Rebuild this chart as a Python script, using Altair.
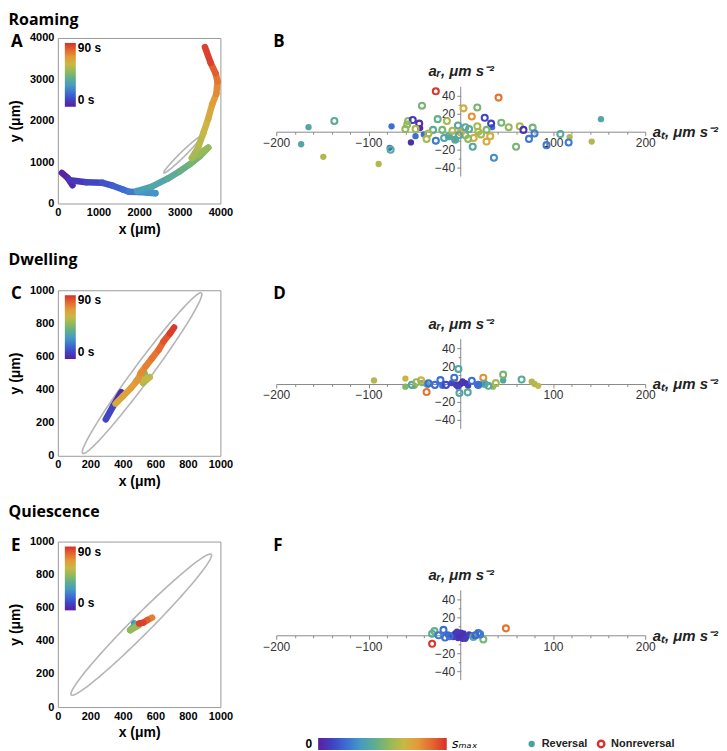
import altair as alt
import pandas as pd
import numpy as np

# ---------------- colours ----------------
RAINBOW = ["#5a1f9c", "#4043c4", "#3d6fd3", "#459bc2", "#5fae8e",
           "#93b95a", "#c9b845", "#e39a38", "#e4662f", "#d8302a"]

# ---------------- trajectories (x, y in um, t in s, segment id) ----------------
A_x = [100, 240, 360, 300, 700, 1100, 1350, 1600, 1750, 2000, 2400, 1950, 2300, 2700, 3000, 3250, 3500, 3700,
       3300, 3450, 3580, 3700, 3800, 3900, 3930, 3880, 3760, 3620]
A_y = [740, 620, 440, 560, 515, 500, 430, 340, 285, 280, 250, 300, 400, 600, 780, 950, 1150, 1350,
       1100, 1350, 1700, 2050, 2400, 2650, 2950, 3150, 3400, 3780]
A_t = [0, 2, 4, 5, 9, 12, 15, 18, 21, 24, 27, 30, 33, 37, 40, 43, 46, 49,
       52, 55, 59, 63, 67, 71, 75, 79, 84, 90]
A_seg = [0, 0, 0] + [1] * 25

C_x = [390, 340, 295, 480, 530, 545, 525, 565, 520, 355, 400, 450, 490, 510, 540, 580, 620, 650, 690, 715]
C_y = [385, 300, 220, 450, 505, 470, 440, 475, 455, 315, 360, 410, 455, 500, 540, 590, 640, 690, 740, 775]
C_t = [0, 7, 14, 44, 47, 50, 53, 57, 60, 64, 66, 68, 70, 72, 74, 76, 78, 81, 86, 90]
C_seg = [0, 0, 0, 1, 1, 1, 1, 1, 1, 2, 2, 2, 2, 2, 2, 2, 2, 2, 2, 2]

E_x = [470, 480, 445, 500, 580, 550, 525, 500]
E_y = [505, 500, 465, 495, 540, 525, 510, 505]
E_t = [20, 32, 45, 55, 72, 78, 85, 90]
E_seg = [0, 0, 0, 0, 1, 1, 1, 1]

# covariance ellipses: centre x, centre y, semi-major, semi-minor, angle (deg)
A_ell = [3060, 1175, 625, 62, 44]
C_ell = [518, 499, 607, 55, 53]
E_ell = [513, 498, 605, 58, 44.6]

# ---------------- accelerations (a_t, a_r, speed fraction) ----------------
B_rev_at = [152, -165, -173, -149, -89, -75, -77, -54, -49, 118, 142, -44, 34, -12, -6, -40]
B_rev_ar = [14, 5, -14, -28, -36, 6, -18, -12, -5, -6, -11, 4, 5, -6, -8, -3]
B_rev_s = [0.40, 0.40, 0.40, 0.62, 0.62, 0.22, 0.22, 0.05, 0.22, 0.62, 0.62, 0.05, 0.22, 0.40, 0.40, 0.22]
B_non_at = [-27, 41, -42, 3, 18, 12, -137, -57, -52, -45, -25, -15, 26, 33, 44, 52, 64, 68, 78, 80, 108, 117,
            93, 74, 60, 36, 13, -27, -76, -37, -49, -3, -6, -13, -9, -20, -30, 5, 9, 14, 19, 28, 28, 32, 0,
            18, -58, -2, 5, -18, 8, 22, -35, -60]
B_non_ar = [45, 38, 29, 26, 27, 17, 12, 12, 13, 9, 14, 12, 15.5, 9, 10, 5, 6, 2, 4.5, -2, -2.6, -12,
            -15, -8, -16.7, -29, -16.7, -10, -20, -8, 3, 7, -9, -5, 1, 2, 2, -4, 3, -7, 0, 2, -11, -5, -1,
            6, 8, -4, 5, -7, -8, -3, -2, 3]
B_non_s = [0.98, 0.86, 0.5, 0.72, 0.5, 0.8, 0.42, 0.55, 0.08, 0.05, 0.45, 0.6, 0.12, 0.1, 0.5, 0.55, 0.6, 0.06,
           0.5, 0.25, 0.42, 0.25, 0.25, 0.25, 0.5, 0.3, 0.4, 0.25, 0.42, 0.6, 0.6, 0.4, 0.42, 0.42, 0.6, 0.5,
           0.42, 0.5, 0.42, 0.72, 0.6, 0.5, 0.72, 0.72, 0.72, 0.6, 0.55, 0.4, 0.42, 0.4, 0.55, 0.6, 0.6, 0.55]

D_rev_at = [-94, -60, -60, -50, -42, 77, 80, 84, 46, 35, -6, 0, -5, 5, 8, -10, -20, 18, -36, 25, 2, -3]
D_rev_ar = [4, 6, -3, -2, 1, 2.5, 0, -2, 4, -3, 2, 0, -1, 1, -2, 1, -2, -1, -1, 1, 3, -3]
D_rev_s = [0.62, 0.68, 0.52, 0.55, 0.45, 0.62, 0.62, 0.65, 0.4, 0.55, 0.7, 0.05, 0.08, 0.06, 0.1, 0.12,
           0.22, 0.22, 0.4, 0.3, 0.07, 0.1]
D_non_at = [-37, 24.5, -43, -53, -2.5, -1.4, 7.6, 46, 66, -22, -7, 12, -35, 26, 30, 19, -28, -16, -48, 38]
D_non_ar = [-9, 7, 4, -1, 16.8, -10, -9.3, 10.4, 5, 4.3, 7, 3.6, 0.7, 0, -2, -1, -1, -1, 2, 1]
D_non_s = [0.86, 0.8, 0.7, 0.4, 0.4, 0.4, 0.42, 0.5, 0.42, 0.22, 0.22, 0.22, 0.22, 0.42, 0.42, 0.22, 0.22,
           0.12, 0.55, 0.6]

F_rev_at = [-10, -6, -3, 0, 3, 6, 9, 12, -8, 0, 2, -14, 15, -4, 5]
F_rev_ar = [0, 2, -3, 0, 2, -2, 1, 0, -2, 3, -4, 1, -1, 4, -4]
F_rev_s = [0.08, 0.05, 0.06, 0.04, 0.07, 0.05, 0.1, 0.15, 0.1, 0.06, 0.06, 0.18, 0.2, 0.08, 0.09]
F_non_at = [-31, 49, -31, -28.5, -18.7, -17, -24, 19, 24.5, 13.7, 21, -12, 16]
F_non_ar = [-9.5, 7.7, 1.8, 4.6, 6, -2.5, 0, 2.5, -4.6, -1.8, 1, -1, 0]
F_non_s = [0.98, 0.86, 0.42, 0.45, 0.22, 0.22, 0.25, 0.22, 0.5, 0.42, 0.25, 0.22, 0.2]

X_TICKS = list(range(-200, 201, 20))
Y_TICKS = list(range(-40, 41, 10))
AR_AXIS = [-50, 50]          # extent of the drawn a_r axis line
LEGEND_LABELS = ["Reversal", "Nonreversal"]
LEGEND_POS = [1.66, 2.20]

LW, LH = 163, 166
RW = 370
PXU = 0.9                     # pixels per unit on the right panels
TOPGAP = 49                   # right plot's a_r=50 line sits this far below the left frame top
RH = int(round(100 * PXU + TOPGAP))
Y_TOP = 50 + TOPGAP / PXU

BOLD_FONT = "Liberation Sans"
TITLE_FONT = "Open Sans"


def time_scale():
    return alt.Scale(domain=[0, 90], range=RAINBOW, interpolate="rgb")


def left_panel(letter, xs, ys, ts, segs, ell, dom, ticks):
    rows = []
    for i in range(len(xs) - 1):
        if segs[i] == segs[i + 1]:
            rows.append(dict(x=xs[i], y=ys[i], x2=xs[i + 1], y2=ys[i + 1],
                             t=(ts[i] + ts[i + 1]) / 2.0))
    seg_df = pd.DataFrame(rows)
    cx, cy, a, b, ang = ell
    th = np.linspace(0, 2 * np.pi, 121)
    r = np.radians(ang)
    ex = cx + a * np.cos(th) * np.cos(r) - b * np.sin(th) * np.sin(r)
    ey = cy + a * np.cos(th) * np.sin(r) + b * np.sin(th) * np.cos(r)
    ell_df = pd.DataFrame({"ex": ex, "ey": ey, "o": np.arange(len(th))})

    xs_ = alt.Scale(domain=dom, nice=False, zero=False)
    ys_ = alt.Scale(domain=dom, nice=False, zero=False)
    ax_common = dict(grid=False, domain=False, ticks=False, labelFont=BOLD_FONT, labelFontSize=11,
                     labelFontWeight="bold", labelColor="black", titleFont=BOLD_FONT, titleFontSize=14,
                     titleFontWeight="bold", titleColor="black", values=ticks, labelFlush=False,
                     labelOverlap=False, labelSeparation=0, format="d")
    xaxis = alt.Axis(title="x (μm)", labelPadding=3, titlePadding=5, **ax_common)
    yaxis = alt.Axis(title="y (μm)", labelPadding=4, titleX=-42, titleY=LH / 2, titleAngle=270,
                     titleAlign="center", titleBaseline="middle", **ax_common)

    ellipse = alt.Chart(ell_df).mark_line(color="#b5b5b5", strokeWidth=1.6).encode(
        x=alt.X("ex:Q", scale=xs_, axis=xaxis),
        y=alt.Y("ey:Q", scale=ys_, axis=yaxis),
        order="o:Q",
    )
    traj = alt.Chart(seg_df).mark_rule(strokeWidth=6.5, strokeCap="round").encode(
        x=alt.X("x:Q", scale=xs_, axis=xaxis),
        y=alt.Y("y:Q", scale=ys_, axis=yaxis),
        x2="x2:Q",
        y2="y2:Q",
        color=alt.Color("t:Q", scale=time_scale(), title=None,
                        legend=alt.Legend(orient="none", legendX=7, legendY=5, direction="vertical",
                                          gradientLength=64, gradientThickness=11, gradientStrokeWidth=0,
                                          values=[0, 90], labelExpr="datum.value + ' s'",
                                          labelFont=BOLD_FONT, labelFontSize=12, labelFontWeight="bold",
                                          labelColor="black", labelOffset=2)),
    )
    lab = alt.Chart(pd.DataFrame({"l": [letter]})).mark_text(
        font=TITLE_FONT, fontSize=17, fontWeight="bold", align="left", baseline="top", color="black"
    ).encode(text="l:N", x=alt.value(-47), y=alt.value(-4))
    return alt.layer(ellipse, traj, lab).properties(
        width=LW, height=LH, view=alt.ViewBackground(stroke="#9a9a9a", strokeWidth=1))


def right_panel(letter, rat, rar, rs, nat, nar, ns):
    rev = pd.DataFrame({"at": rat, "ar": rar, "s": rs})
    non = pd.DataFrame({"at": nat, "ar": nar, "s": ns})
    xsc = alt.Scale(domain=[-200, 200], nice=False)
    ysc = alt.Scale(domain=[-50, Y_TOP], nice=False, zero=False)
    csc = alt.Scale(domain=[0, 1], range=RAINBOW, interpolate="rgb")
    common = dict(grid=False, domainColor="#8a8a8a", tickColor="#8a8a8a", labelFont="Liberation Sans",
                  labelFontSize=12, labelColor="#333333", titleFont="Liberation Sans", titleFontSize=15,
                  titleFontWeight="bold", titleFontStyle="italic", titleColor="#222222", labelFlush=False,
                  labelOverlap=False)
    xaxis = alt.Axis(values=X_TICKS, offset=-50 * PXU, labelPadding=2,
                     labelExpr="(datum.value % 100 === 0 && datum.value !== 0) ? datum.label : ''",
                     tickSize={"condition": {"test": "datum.value % 100 === 0", "value": 4}, "value": 2.5},
                     title="aₜ, μm s⁻²", titleX=RW + 7, titleY=5, titleAlign="left",
                     titleBaseline="alphabetic", titleAngle=0, **common)
    yaxis = alt.Axis(values=Y_TICKS, offset=-RW / 2, labelPadding=2, domain=False,
                     labelExpr="(datum.value % 20 === 0 && datum.value !== 0) ? datum.label : ''",
                     tickSize={"condition": {"test": "datum.value % 20 === 0", "value": 4}, "value": 2.5},
                     title="aᵣ, μm s⁻²", titleX=0, titleY=TOPGAP - 11, titleAlign="center",
                     titleBaseline="alphabetic", titleAngle=0, **common)
    axis_line = alt.Chart(pd.DataFrame({"at": [0], "lo": [AR_AXIS[0]], "hi": [AR_AXIS[1]]})).mark_rule(
        color="#8a8a8a", strokeWidth=1).encode(
        x=alt.X("at:Q", scale=xsc, axis=xaxis),
        y=alt.Y("lo:Q", scale=ysc, axis=yaxis),
        y2="hi:Q",
    )
    filled = alt.Chart(rev).mark_circle(size=40, opacity=1).encode(
        x=alt.X("at:Q", scale=xsc, axis=xaxis),
        y=alt.Y("ar:Q", scale=ysc, axis=yaxis),
        color=alt.Color("s:Q", scale=csc, legend=None),
    )
    opened = alt.Chart(non).mark_point(filled=False, size=36, strokeWidth=2.1, opacity=1).encode(
        x=alt.X("at:Q", scale=xsc, axis=xaxis),
        y=alt.Y("ar:Q", scale=ysc, axis=yaxis),
        color=alt.Color("s:Q", scale=csc, legend=None),
    )
    lab = alt.Chart(pd.DataFrame({"l": [letter]})).mark_text(
        font=TITLE_FONT, fontSize=17, fontWeight="bold", align="left", baseline="top", color="black"
    ).encode(text="l:N", x=alt.value(-3), y=alt.value(-4))
    return alt.layer(axis_line, filled, opened, lab).properties(width=RW, height=RH)


def legend_chart():
    lsc = alt.Scale(domain=[-0.3256, 3.0], nice=False, zero=False)
    bar_df = pd.DataFrame({"x0": [0], "x1": [1]})
    grad = alt.Gradient(gradient="linear", x1=0, x2=1, y1=0, y2=0,
                        stops=[alt.GradientStop(offset=i / (len(RAINBOW) - 1), color=c)
                               for i, c in enumerate(RAINBOW)])
    bar = alt.Chart(bar_df).mark_rect(color=grad).encode(
        x=alt.X("x0:Q", scale=lsc, axis=None), x2="x1:Q", y=alt.value(1), y2=alt.value(13))
    zero = alt.Chart(pd.DataFrame({"x": [0], "l": ["0"]})).mark_text(
        font=BOLD_FONT, fontSize=12, fontWeight="bold", align="right", baseline="middle", dx=-6, color="black"
    ).encode(x=alt.X("x:Q", scale=lsc, axis=None), y=alt.value(7), text="l:N")
    smax = alt.Chart(pd.DataFrame({"x": [1], "l": ["sₘₐₓ"]})).mark_text(
        font="DejaVu Sans", fontSize=13, fontStyle="italic", align="left", baseline="middle", dx=5, color="black"
    ).encode(x=alt.X("x:Q", scale=lsc, axis=None), y=alt.value(7), text="l:N")
    key_df = pd.DataFrame({"x": LEGEND_POS, "l": LEGEND_LABELS})
    dot = alt.Chart(key_df.iloc[[0]]).mark_circle(size=40, color="#4aa3a0", opacity=1).encode(
        x=alt.X("x:Q", scale=lsc, axis=None), y=alt.value(7))
    ring = alt.Chart(key_df.iloc[[1]]).mark_point(filled=False, size=42, strokeWidth=2.4,
                                                   color="#d8302a", opacity=1).encode(
        x=alt.X("x:Q", scale=lsc, axis=None), y=alt.value(7))
    txt = alt.Chart(key_df).mark_text(
        font=BOLD_FONT, fontSize=11, fontWeight="bold", align="left", baseline="middle", dx=10, color="#222222"
    ).encode(x=alt.X("x:Q", scale=lsc, axis=None), y=alt.value(7), text="l:N")
    return alt.layer(bar, zero, smax, dot, ring, txt).properties(width=429, height=14)


A = left_panel("A", A_x, A_y, A_t, A_seg, A_ell, [0, 4000], [0, 1000, 2000, 3000, 4000])
C = left_panel("C", C_x, C_y, C_t, C_seg, C_ell, [0, 1000], [0, 200, 400, 600, 800, 1000])
E = left_panel("E", E_x, E_y, E_t, E_seg, E_ell, [0, 1000], [0, 200, 400, 600, 800, 1000])
B = right_panel("B", B_rev_at, B_rev_ar, B_rev_s, B_non_at, B_non_ar, B_non_s)
D = right_panel("D", D_rev_at, D_rev_ar, D_rev_s, D_non_at, D_non_ar, D_non_s)
F = right_panel("F", F_rev_at, F_rev_ar, F_rev_s, F_non_at, F_non_ar, F_non_s)


def row_title(text, offset):
    return alt.TitleParams(text, anchor="start", font=TITLE_FONT, fontSize=16, fontWeight="bold",
                           color="black", offset=offset)


right3 = alt.vconcat(F, legend_chart(), spacing=54).resolve_scale(color="independent", x="independent")
row1 = alt.hconcat(A, B, spacing=28, title=row_title("Roaming", 4)).resolve_scale(color="independent")
row2 = alt.hconcat(C, D, spacing=28, title=row_title("Dwelling", 16)).resolve_scale(color="independent")
row3 = alt.hconcat(E, right3, spacing=28, title=row_title("Quiescence", 15)).resolve_scale(color="independent")

chart = alt.vconcat(row1, row2, row3, spacing=14).resolve_scale(color="independent").properties(
    padding={"left": 0, "top": 2, "right": 0, "bottom": 0}
).configure_view(stroke="transparent").configure_axis(labelOverlap=False)

chart.save("out.html", embed_options={"renderer": "svg", "actions": False})
